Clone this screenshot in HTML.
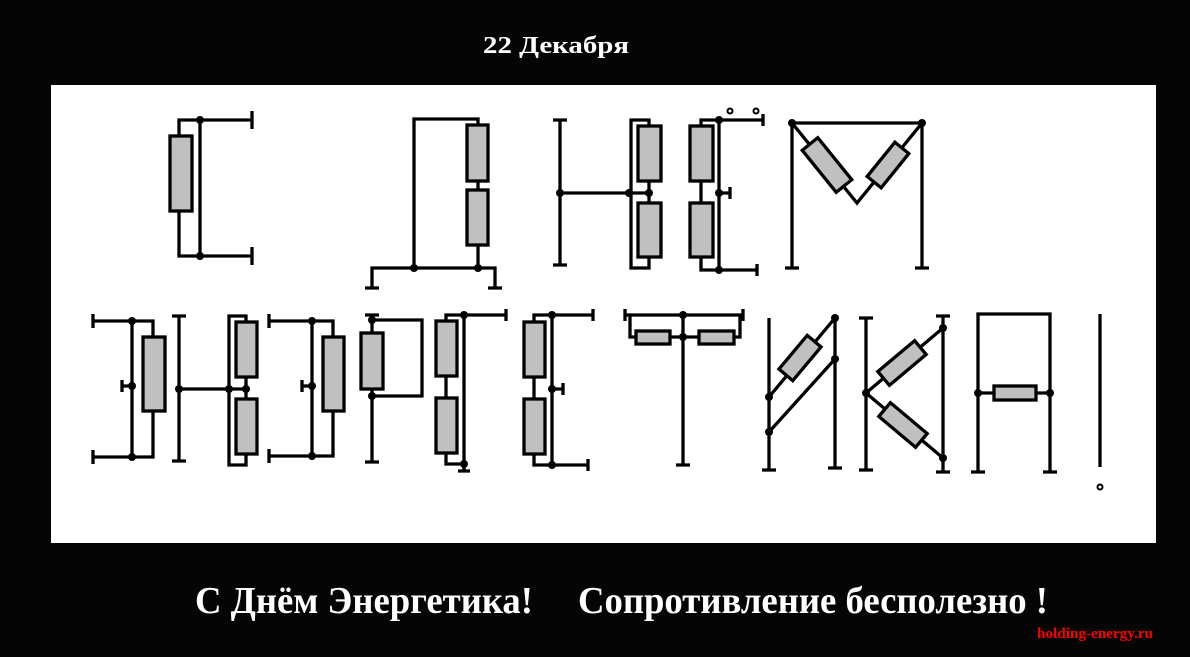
<!DOCTYPE html>
<html><head><meta charset="utf-8"><style>
html,body{margin:0;padding:0;background:#000;width:1190px;height:657px;overflow:hidden}
</style></head><body>
<svg width="1190" height="657" viewBox="0 0 1190 657" xmlns="http://www.w3.org/2000/svg">
<rect width="1190" height="657" fill="#050505"/>
<rect x="51" y="85" width="1105" height="458" fill="#fff"/>
<text x="483" y="53" font-family="Liberation Serif, serif" font-weight="bold" font-size="24" fill="#fff" textLength="146" lengthAdjust="spacingAndGlyphs">22 Декабря</text>
<text x="195" y="613" font-family="Liberation Serif, serif" font-weight="bold" font-size="38" fill="#fff" textLength="338" lengthAdjust="spacingAndGlyphs">С Днём Энергетика!</text>
<text x="578" y="613" font-family="Liberation Serif, serif" font-weight="bold" font-size="38" fill="#fff" textLength="470" lengthAdjust="spacingAndGlyphs">Сопротивление бесполезно !</text>
<text x="1037" y="638" font-family="Liberation Serif, serif" font-weight="bold" font-size="15" fill="#f00" textLength="116" lengthAdjust="spacingAndGlyphs">holding-energy.ru</text>
<g stroke="#000" stroke-width="3.3" fill="none">
<path d="M252,120H179V136M179,211V256H252M200,120V256M252,111V129M252,247V265"/>
<path d="M478,125V119H414V268M478,181V190M478,245V268M372,288V268H495V288M365,288H379M488,288H502"/>
<path d="M560,120V265M553,120H567M553,265H567M560,193H649M649,126V120H631V268H649V257M649,181V203"/>
<path d="M701,126V120H763M763,114V126M719,120V270M719,193H730M730,187V199M701,181V203M701,257V270H757M757,264V276"/>
<path d="M792,123H922M792,123V268M922,123V268M785,268H799M915,268H929M792,123L857,203L922,123"/>
<path d="M93,321H153V337M153,411V457H93M93,314V328M93,450V464M132,321V457M132,386H122M122,380V392"/>
<path d="M179,316V461M172,316H186M172,461H186M179,389H246M246,322V316H229V465H246V454M246,377V399"/>
<path d="M269,321H333V337M333,411V456H269M269,314V328M269,449V463M312,321V456M312,386H302M302,380V392"/>
<path d="M372,315V333M372,389V462M365,315H379M365,462H379M372,320H422V396H372"/>
<path d="M446,321V315H506M506,309V321M464,315V471M458,471H470M446,376V398M446,453V464H464"/>
<path d="M534,322V315H593M593,309V321M552,315V465M552,389H563M563,383V395M534,377V399M534,454V465H588M588,459V471"/>
<path d="M625,315H743M625,309V321M743,309V321M683,315V465M676,465H690M630,315V337H636M670,337H699M734,337H740V315"/>
<path d="M769,318V470M762,470H776M835,316V468M828,468H842M769,397L835,318M769,432L835,359"/>
<path d="M866,318V470M859,318H873M859,470H873M943,316V472M936,316H950M936,472H950M866,393L943,328M866,393L943,458"/>
<path d="M978,472V314H1050V472M971,472H985M1043,472H1057M978,393H1050"/>
<path d="M1100,314V467"/>
</g>
<g fill="#c0c0c0" stroke="#000" stroke-width="3.3">
<rect x="170" y="136" width="22" height="75"/>
<rect x="467" y="125" width="21" height="56"/><rect x="467" y="190" width="21" height="55"/>
<rect x="638" y="126" width="23" height="55"/><rect x="638" y="203" width="23" height="54"/>
<rect x="690" y="126" width="23" height="55"/><rect x="690" y="203" width="23" height="54"/>
<rect x="-27" y="-10" width="54" height="20" transform="translate(827,165) rotate(51)"/>
<rect x="-22" y="-9" width="44" height="18" transform="translate(888,165) rotate(-51)"/>
<rect x="143" y="337" width="22" height="74"/>
<rect x="236" y="322" width="21" height="55"/><rect x="236" y="399" width="21" height="55"/>
<rect x="323" y="337" width="21" height="74"/>
<rect x="361" y="333" width="22" height="56"/>
<rect x="436" y="321" width="21" height="55"/><rect x="436" y="398" width="21" height="55"/>
<rect x="524" y="322" width="21" height="55"/><rect x="524" y="399" width="21" height="55"/>
<rect x="636" y="331" width="34" height="13"/><rect x="699" y="331" width="35" height="13"/>
<rect x="-22" y="-9" width="44" height="18" transform="translate(800,358) rotate(-50)"/>
<rect x="-24" y="-9" width="48" height="18" transform="translate(902,363) rotate(-40)"/>
<rect x="-24" y="-9" width="48" height="18" transform="translate(903,425) rotate(40)"/>
<rect x="994" y="386" width="42" height="14"/>
</g>
<g fill="#000">
<circle cx="200" cy="120" r="4"/><circle cx="200" cy="256" r="4"/>
<circle cx="414" cy="268" r="4"/><circle cx="478" cy="268" r="4"/>
<circle cx="560" cy="193" r="4"/><circle cx="629" cy="193" r="4"/><circle cx="649" cy="193" r="4"/>
<circle cx="719" cy="120" r="4"/><circle cx="719" cy="193" r="4"/><circle cx="719" cy="270" r="4"/>
<circle cx="792" cy="123" r="4"/><circle cx="922" cy="123" r="4"/>
<circle cx="132" cy="321" r="4"/><circle cx="132" cy="386" r="4"/><circle cx="132" cy="457" r="4"/>
<circle cx="179" cy="389" r="4"/><circle cx="229" cy="389" r="4"/><circle cx="246" cy="389" r="4"/>
<circle cx="312" cy="321" r="4"/><circle cx="312" cy="386" r="4"/><circle cx="312" cy="456" r="4"/>
<circle cx="372" cy="320" r="4"/><circle cx="372" cy="396" r="4"/>
<circle cx="464" cy="315" r="4"/><circle cx="464" cy="464" r="4"/>
<circle cx="552" cy="315" r="4"/><circle cx="552" cy="389" r="4"/><circle cx="552" cy="465" r="4"/>
<circle cx="683" cy="315" r="4"/><circle cx="683" cy="337" r="4"/>
<circle cx="769" cy="397" r="4"/><circle cx="769" cy="432" r="4"/><circle cx="835" cy="318" r="4"/><circle cx="835" cy="359" r="4"/>
<circle cx="866" cy="393" r="4"/><circle cx="943" cy="328" r="4"/><circle cx="943" cy="458" r="4"/>
<circle cx="978" cy="393" r="4"/><circle cx="1050" cy="393" r="4"/>
</g>
<g fill="none" stroke="#000" stroke-width="2">
<circle cx="730" cy="111" r="2.5"/><circle cx="756" cy="111" r="2.5"/><circle cx="1100" cy="487" r="2.5"/>
</g>
</svg>
</body></html>
